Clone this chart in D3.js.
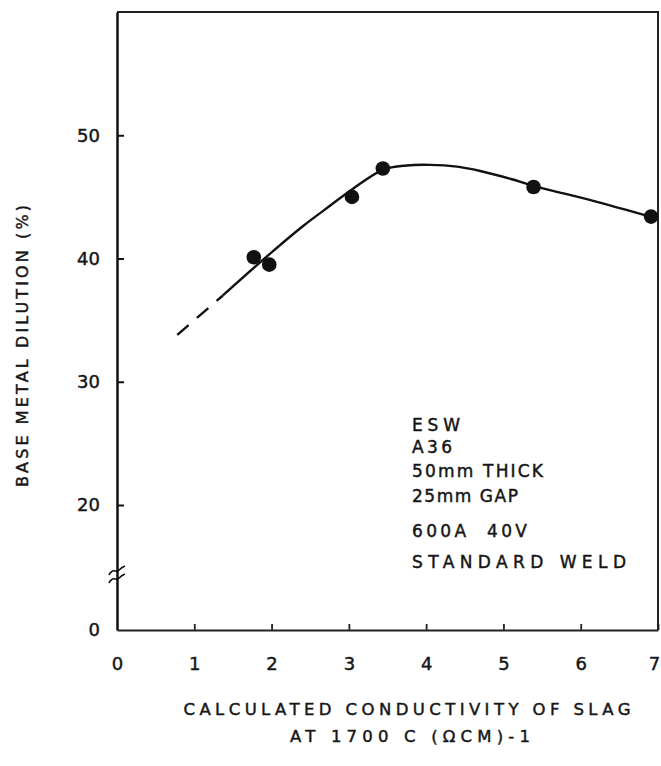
<!DOCTYPE html>
<html>
<head>
<meta charset="utf-8">
<script src="https://cdn.jsdelivr.net/npm/d3@7"></script>
<style>
    body { margin: 0; background: #fff; }
    svg { display: block; }
    text { font-family: "DejaVu Sans", "Liberation Sans", sans-serif; fill: #161616; stroke: #161616; stroke-width: 0.45px; }
</style>
</head>
<body>
<div id="chart"></div>
<script>
// Measured points (conductivity, dilution %)
const pointX = [1.77, 1.97, 3.04, 3.44, 5.39, 6.91];
const pointY = [40.1, 39.5, 45.0, 47.3, 45.8, 43.4];

// Fitted curve; dashed below dashedUntil
const curveX = [0.78, 1.37, 2.0, 2.4, 2.76, 3.04, 3.44, 3.75, 4.05, 4.4, 4.7, 5.1, 5.39, 6.21, 6.9];
const curveY = [33.8, 37.0, 40.5, 42.6, 44.3, 45.6, 47.2, 47.55, 47.6, 47.45, 47.1, 46.45, 45.9, 44.6, 43.4];
const dashedUntil = 1.37;

const xTicks = [0, 1, 2, 3, 4, 5, 6, 7];
const yTicks = [0, 20, 30, 40, 50];
const notes = ["ESW", "A36", "50mm THICK", "25mm GAP", "600A  40V", "STANDARD WELD"];
const xTitle = ["CALCULATED CONDUCTIVITY OF SLAG", "AT 1700 C (\u03A9CM)-1"];
const yTitle = "BASE METAL DILUTION (%)";

const width = 661;
const height = 766;

const svg = d3.select("#chart")
    .append("svg")
    .attr("width", width)
    .attr("height", height);

// x: 0..7, y has a break between 0 and 20
const x = d3.scaleLinear().domain([0, 7]).range([117, 658]);
const y = d3.scaleLinear().domain([0, 20, 60]).range([630, 505, 12]);

// Frame (top and right)
svg.append("path")
    .attr("d", `M${x(0)},${y(60)}H${x(7)}V${y(0)}`)
    .attr("fill", "none")
    .attr("stroke", "#222")
    .attr("stroke-width", 2);

// Axes
const yAxis = d3.axisLeft(y)
    .tickValues(yTicks)
    .tickSizeInner(-7)
    .tickSizeOuter(0)
    .tickPadding(17)
    .tickFormat(d3.format("d"));

const xAxis = d3.axisBottom(x)
    .tickValues(xTicks)
    .tickSizeInner(-6)
    .tickSizeOuter(0)
    .tickPadding(27)
    .tickFormat(d3.format("d"));

const gy = svg.append("g")
    .attr("transform", `translate(${x(0)},0)`)
    .call(yAxis);

const gx = svg.append("g")
    .attr("transform", `translate(0,${y(0)})`)
    .call(xAxis);

gy.select(".domain").attr("stroke", "#111").attr("stroke-width", 2.5);
gx.select(".domain").attr("stroke", "#222").attr("stroke-width", 2);
gy.selectAll(".tick line").attr("stroke", "#111").attr("stroke-width", 2);
gx.selectAll(".tick line").attr("stroke", "#222").attr("stroke-width", 1.8);
svg.selectAll(".tick text")
    .attr("font-size", 18)
    .attr("font-family", "DejaVu Sans")
    .attr("fill", "#161616");
// last x label sits just inside the frame
gx.selectAll(".tick").filter(d => d === 7).select("text").attr("dx", -4);
// the 0 corner ticks are not drawn in the original
gx.selectAll(".tick").filter(d => d === 0).select("line").remove();
gy.selectAll(".tick").filter(d => d === 0).select("line").remove();

// Axis break marks on the y axis
const breakValue = 8.8;
const by = y(breakValue);
[-4, 4].forEach(off => {
    const p = d3.path();
    const cx = x(0), cy = by + off;
    p.moveTo(cx - 8, cy + 4);
    p.bezierCurveTo(cx - 4, cy - 4, cx - 1, cy + 2, cx + 1, cy);
    p.bezierCurveTo(cx + 3, cy - 2, cx + 5, cy - 4, cx + 8, cy - 5);
    svg.append("path")
        .attr("d", p.toString())
        .attr("fill", "none")
        .attr("stroke", "#111")
        .attr("stroke-width", 1.6);
});

// Curve
const curveData = curveX.map((v, i) => ({ x: v, y: curveY[i] }));
const line = d3.line()
    .x(d => x(d.x))
    .y(d => y(d.y))
    .curve(d3.curveCatmullRom.alpha(0.5));

svg.append("path")
    .datum(curveData.filter(d => d.x <= dashedUntil))
    .attr("d", line)
    .attr("fill", "none")
    .attr("stroke", "#111")
    .attr("stroke-width", 2.4)
    .attr("stroke-dasharray", "15 11");

svg.append("path")
    .datum(curveData.filter(d => d.x >= dashedUntil))
    .attr("d", line)
    .attr("fill", "none")
    .attr("stroke", "#111")
    .attr("stroke-width", 2.4);

// Points
svg.selectAll("circle.pt")
    .data(pointX.map((v, i) => ({ x: v, y: pointY[i] })))
    .enter()
    .append("circle")
    .attr("class", "pt")
    .attr("cx", d => x(d.x))
    .attr("cy", d => y(d.y))
    .attr("r", 7.3)
    .attr("fill", "#111");

// Annotation block
const noteBaselines = [431, 453, 477, 502, 537, 568];
const noteWidths = [48, 40, 131, 106, 115, 214];
svg.selectAll("text.note")
    .data(notes)
    .enter()
    .append("text")
    .attr("class", "note")
    .attr("x", 412)
    .attr("y", (d, i) => noteBaselines[i])
    .attr("font-size", 17)
    .attr("textLength", (d, i) => noteWidths[i])
    .attr("lengthAdjust", "spacing")
    .style("white-space", "pre")
    .text(d => d);

// Axis titles
const xTitleWidths = [447, 240];
const xTitleBaselines = [715, 742];
svg.selectAll("text.xtitle")
    .data(xTitle)
    .enter()
    .append("text")
    .attr("class", "xtitle")
    .attr("x", (d, i) => i === 0 ? 407 : 410)
    .attr("y", (d, i) => xTitleBaselines[i])
    .attr("text-anchor", "middle")
    .attr("font-size", 16.5)
    .attr("textLength", (d, i) => xTitleWidths[i])
    .attr("lengthAdjust", "spacing")
    .text(d => d);

svg.append("text")
    .attr("transform", "translate(28,346) rotate(-90)")
    .attr("text-anchor", "middle")
    .attr("font-size", 16)
    .attr("textLength", 282)
    .attr("lengthAdjust", "spacing")
    .text(yTitle);
</script>
</body>
</html>
